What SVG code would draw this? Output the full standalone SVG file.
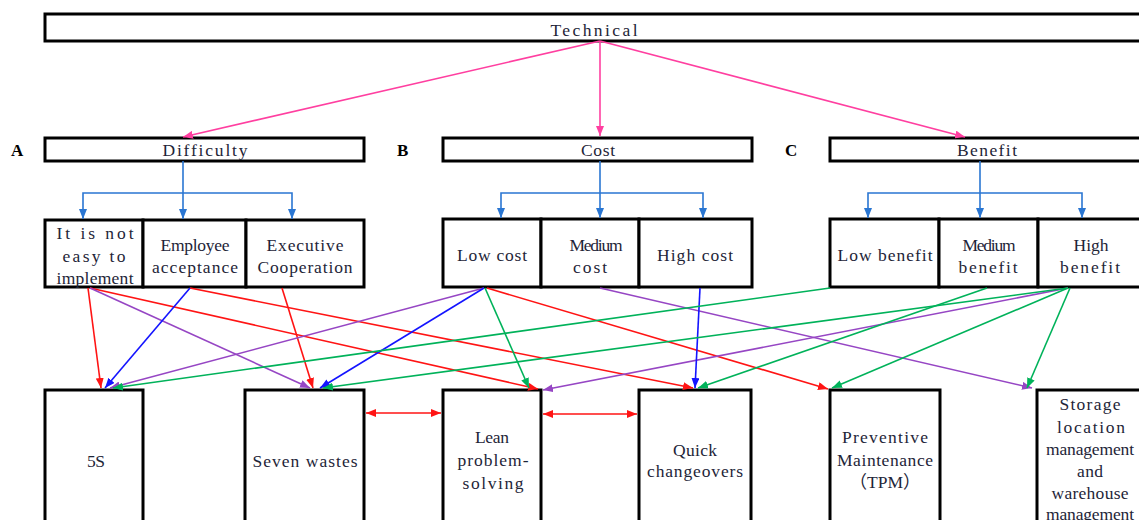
<svg xmlns="http://www.w3.org/2000/svg" width="1139" height="520" viewBox="0 0 1139 520">
  <style>
    .box { fill: #ffffff; stroke: #000000; stroke-width: 3; }
    .t { font-family: "Liberation Serif", "Noto Sans CJK SC", serif; font-size: 17.5px; fill: #1e2538; text-anchor: middle; }
    .lab { font-family: "Liberation Serif", serif; font-size: 17px; font-weight: bold; fill: #000000; }
    .c { fill: none; stroke-width: 1.6; }
    .pink { stroke: #ff3fa0; marker-end: url(#mPink); }
    .tree { stroke: #2a76d2; marker-end: url(#mTree); }
    .red { stroke: #ff1414; marker-end: url(#mRed); }
    .purple { stroke: #9646c4; marker-end: url(#mPurple); }
    .blue { stroke: #1414ff; marker-end: url(#mBlue); }
    .green { stroke: #00b25a; marker-end: url(#mGreen); }
    .both { stroke: #ff1414; marker-start: url(#mRedS); marker-end: url(#mRed); }
  </style>
  <defs>
    <marker id="mPink" markerUnits="userSpaceOnUse" markerWidth="10" markerHeight="8" refX="10" refY="4" orient="auto"><path d="M0,0 L10,4 L0,8 z" fill="#ff3fa0"/></marker>
    <marker id="mTree" markerUnits="userSpaceOnUse" markerWidth="10" markerHeight="8" refX="10" refY="4" orient="auto"><path d="M0,0 L10,4 L0,8 z" fill="#2a76d2"/></marker>
    <marker id="mRed" markerUnits="userSpaceOnUse" markerWidth="10" markerHeight="8" refX="10" refY="4" orient="auto"><path d="M0,0 L10,4 L0,8 z" fill="#ff1414"/></marker>
    <marker id="mRedS" markerUnits="userSpaceOnUse" markerWidth="10" markerHeight="8" refX="0" refY="4" orient="auto"><path d="M10,0 L0,4 L10,8 z" fill="#ff1414"/></marker>
    <marker id="mPurple" markerUnits="userSpaceOnUse" markerWidth="10" markerHeight="8" refX="10" refY="4" orient="auto"><path d="M0,0 L10,4 L0,8 z" fill="#9646c4"/></marker>
    <marker id="mBlue" markerUnits="userSpaceOnUse" markerWidth="10" markerHeight="8" refX="10" refY="4" orient="auto"><path d="M0,0 L10,4 L0,8 z" fill="#1414ff"/></marker>
    <marker id="mGreen" markerUnits="userSpaceOnUse" markerWidth="10" markerHeight="8" refX="10" refY="4" orient="auto"><path d="M0,0 L10,4 L0,8 z" fill="#00b25a"/></marker>
  </defs>
  <rect width="1139" height="520" fill="#ffffff"/>

  <!-- top level -->
  <g id="technical">
    <rect class="box" x="45" y="14" width="1110" height="27"/>
    <text class="t" x="594" y="36" textLength="87" lengthAdjust="spacing">Technical</text>
  </g>

  <!-- criteria -->
  <g id="difficulty">
    <text class="lab" x="11" y="156">A</text>
    <rect class="box" x="45" y="138" width="319" height="23"/>
    <text class="t" x="205" y="156" textLength="85" lengthAdjust="spacing">Difficulty</text>
  </g>
  <g id="cost">
    <text class="lab" x="397" y="156">B</text>
    <rect class="box" x="443" y="138" width="309" height="23"/>
    <text class="t" x="598" y="156" textLength="34" lengthAdjust="spacing">Cost</text>
  </g>
  <g id="benefit">
    <text class="lab" x="785" y="156">C</text>
    <rect class="box" x="830" y="138" width="320" height="23"/>
    <text class="t" x="987" y="156" textLength="60" lengthAdjust="spacing">Benefit</text>
  </g>

  <!-- difficulty levels -->
  <g id="not-easy">
    <rect class="box" x="45" y="220" width="98" height="67"/>
    <text class="t" x="95" y="239" textLength="77" lengthAdjust="spacing">It is not</text>
    <text class="t" x="94" y="262" textLength="63" lengthAdjust="spacing">easy to</text>
    <text class="t" x="95" y="284" textLength="77" lengthAdjust="spacing">implement</text>
  </g>
  <g id="employee-acceptance">
    <rect class="box" x="143" y="220" width="103" height="67"/>
    <text class="t" x="195" y="251" textLength="69" lengthAdjust="spacing">Employee</text>
    <text class="t" x="195" y="273" textLength="86" lengthAdjust="spacing">acceptance</text>
  </g>
  <g id="executive-cooperation">
    <rect class="box" x="246" y="220" width="118" height="67"/>
    <text class="t" x="305" y="251" textLength="77" lengthAdjust="spacing">Executive</text>
    <text class="t" x="305" y="273" textLength="95" lengthAdjust="spacing">Cooperation</text>
  </g>

  <!-- cost levels -->
  <g id="low-cost">
    <rect class="box" x="443" y="219" width="98" height="68"/>
    <text class="t" x="492" y="261" textLength="70" lengthAdjust="spacing">Low cost</text>
  </g>
  <g id="medium-cost">
    <rect class="box" x="541" y="219" width="98" height="68"/>
    <text class="t" x="596" y="251" textLength="53" lengthAdjust="spacing">Medium</text>
    <text class="t" x="590" y="273" textLength="34" lengthAdjust="spacing">cost</text>
  </g>
  <g id="high-cost">
    <rect class="box" x="639" y="219" width="113" height="68"/>
    <text class="t" x="695" y="261" textLength="76" lengthAdjust="spacing">High cost</text>
  </g>

  <!-- benefit levels -->
  <g id="low-benefit">
    <rect class="box" x="830" y="219" width="109" height="68"/>
    <text class="t" x="885" y="261" textLength="95" lengthAdjust="spacing">Low benefit</text>
  </g>
  <g id="medium-benefit">
    <rect class="box" x="939" y="219" width="99" height="68"/>
    <text class="t" x="989" y="251" textLength="53" lengthAdjust="spacing">Medium</text>
    <text class="t" x="988" y="273" textLength="59" lengthAdjust="spacing">benefit</text>
  </g>
  <g id="high-benefit">
    <rect class="box" x="1038" y="219" width="112" height="68"/>
    <text class="t" x="1091" y="251" textLength="35" lengthAdjust="spacing">High</text>
    <text class="t" x="1090" y="273" textLength="60" lengthAdjust="spacing">benefit</text>
  </g>

  <!-- lean tools -->
  <g id="tool-5s">
    <rect class="box" x="45" y="390" width="98" height="140"/>
    <text class="t" x="96" y="467" textLength="18" lengthAdjust="spacing">5S</text>
  </g>
  <g id="seven-wastes">
    <rect class="box" x="245" y="390" width="119" height="140"/>
    <text class="t" x="305" y="467" textLength="105" lengthAdjust="spacing">Seven wastes</text>
  </g>
  <g id="lean-problem-solving">
    <rect class="box" x="443" y="390" width="98" height="140"/>
    <text class="t" x="492" y="443" textLength="34" lengthAdjust="spacing">Lean</text>
    <text class="t" x="493" y="466" textLength="71" lengthAdjust="spacing">problem-</text>
    <text class="t" x="493" y="489" textLength="61" lengthAdjust="spacing">solving</text>
  </g>
  <g id="quick-changeovers">
    <rect class="box" x="639" y="390" width="112" height="140"/>
    <text class="t" x="695" y="456" textLength="44" lengthAdjust="spacing">Quick</text>
    <text class="t" x="695" y="477" textLength="96" lengthAdjust="spacing">changeovers</text>
  </g>
  <g id="preventive-maintenance">
    <rect class="box" x="830" y="390" width="110" height="140"/>
    <text class="t" x="885" y="443" textLength="86" lengthAdjust="spacing">Preventive</text>
    <text class="t" x="885" y="466" textLength="96" lengthAdjust="spacing">Maintenance</text>
    <text class="t" x="885" y="488">（TPM）</text>
  </g>
  <g id="storage-warehouse">
    <rect class="box" x="1037" y="390" width="113" height="140"/>
    <text class="t" x="1090" y="410" textLength="61" lengthAdjust="spacing">Storage</text>
    <text class="t" x="1091" y="433" textLength="68" lengthAdjust="spacing">location</text>
    <text class="t" x="1090" y="455" textLength="88" lengthAdjust="spacing">management</text>
    <text class="t" x="1090" y="477" textLength="26" lengthAdjust="spacing">and</text>
    <text class="t" x="1090" y="499" textLength="77" lengthAdjust="spacing">warehouse</text>
    <text class="t" x="1090" y="520" textLength="88" lengthAdjust="spacing">management</text>
  </g>

  <!-- connectors -->
  <g id="connectors">
    <!-- goal to criteria -->
    <line class="c pink" x1="600" y1="41" x2="183" y2="137"/>
    <line class="c pink" x1="600" y1="41" x2="600" y2="136"/>
    <line class="c pink" x1="600" y1="41" x2="965" y2="137"/>

    <!-- criteria to levels -->
    <path class="c tree" d="M183,161 V219"/>
    <path class="c tree" d="M183,193 H83 V219"/>
    <path class="c tree" d="M183,193 H292 V219"/>
    <path class="c tree" d="M600,161 V218"/>
    <path class="c tree" d="M600,193 H501 V218"/>
    <path class="c tree" d="M600,193 H703 V218"/>
    <path class="c tree" d="M980,161 V218"/>
    <path class="c tree" d="M980,193 H868 V218"/>
    <path class="c tree" d="M980,193 H1082 V218"/>

    <!-- levels to tools -->
    <line class="c red" x1="88" y1="288" x2="101" y2="388"/>
    <line class="c red" x1="90" y1="288" x2="538" y2="389"/>
    <line class="c red" x1="190" y1="288" x2="693" y2="388"/>
    <line class="c red" x1="282" y1="288" x2="313" y2="388"/>
    <line class="c red" x1="487" y1="288" x2="828" y2="389"/>

    <line class="c purple" x1="90" y1="288" x2="310" y2="388"/>
    <line class="c purple" x1="484" y1="288" x2="110" y2="388"/>
    <line class="c purple" x1="600" y1="288" x2="1032" y2="388"/>
    <line class="c purple" x1="1068" y1="288" x2="543" y2="390"/>

    <line class="c blue" x1="190" y1="288" x2="105" y2="388"/>
    <line class="c blue" x1="484" y1="288" x2="320" y2="388"/>
    <line class="c blue" x1="700" y1="288" x2="695" y2="388"/>

    <line class="c green" x1="485" y1="288" x2="529" y2="388"/>
    <line class="c green" x1="830" y1="288" x2="113" y2="388"/>
    <line class="c green" x1="987" y1="288" x2="698" y2="388"/>
    <line class="c green" x1="1068" y1="288" x2="323" y2="388"/>
    <line class="c green" x1="1068" y1="288" x2="832" y2="388"/>
    <line class="c green" x1="1070" y1="288" x2="1027" y2="388"/>

    <!-- links between tools -->
    <line class="c both" x1="366" y1="413" x2="441" y2="413"/>
    <line class="c both" x1="543" y1="414" x2="637" y2="414"/>
  </g>
</svg>
